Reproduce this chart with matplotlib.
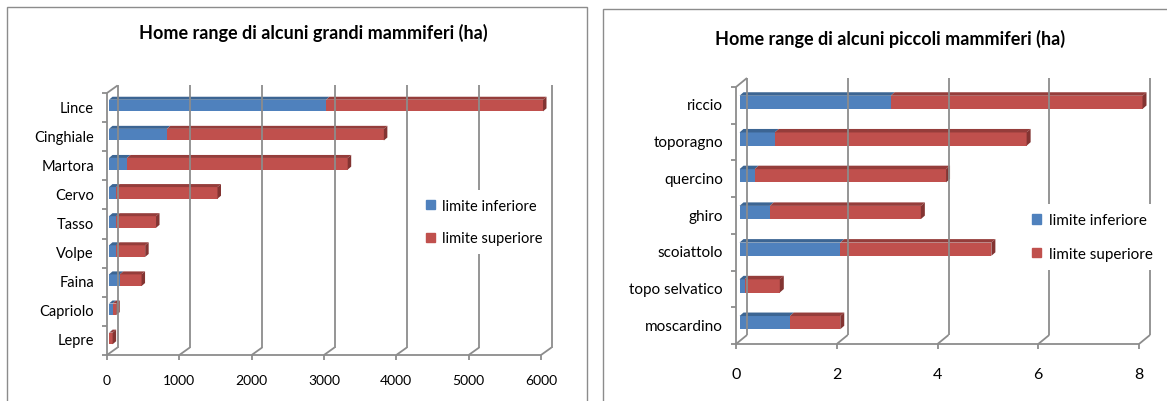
import matplotlib.pyplot as plt
from matplotlib.patches import Polygon, Rectangle, Patch

# home range (ha): lower and upper limit for each species
big_names = ['Lince', 'Cinghiale', 'Martora', 'Cervo', 'Tasso', 'Volpe', 'Faina', 'Capriolo', 'Lepre']
big_lower = [3000, 800, 250, 100, 100, 100, 150, 50, 5]
big_upper = [6000, 3800, 3300, 1500, 650, 500, 450, 100, 50]
big_ticks = [0, 1000, 2000, 3000, 4000, 5000, 6000]

small_names = ['riccio', 'toporagno', 'quercino', 'ghiro', 'scoiattolo', 'topo selvatico', 'moscardino']
small_lower = [3, 0.7, 0.3, 0.6, 2, 0.1, 1]
small_upper = [8, 5.7, 4.1, 3.6, 5, 0.8, 2]
small_ticks = [0, 2, 4, 6, 8]

series_labels = ['limite inferiore', 'limite superiore']

BLUE, BLUE_TOP, BLUE_SIDE = '#4F81BD', '#3C6593', '#345882'
RED, RED_TOP, RED_SIDE = '#C0504D', '#953D3B', '#833432'
GRID = '#8C8C8C'

plt.rcParams['font.family'] = ['Lato', 'DejaVu Sans']

W, H = 1167, 402
fig = plt.figure(figsize=(W / 100, H / 100), dpi=100)


def add_px_axes(left, top, right, bottom):
    return fig.add_axes([left / W, 1 - bottom / H, (right - left) / W, (bottom - top) / H])


def draw_panel(box, names, lower, upper, ticks, title, title_xy, legend_xy,
               back=(10.5, 7.5), shift=(2, 2), depth=(3.5, 3), bar_h=0.4,
               fs=10, tick_fs=10, tick_gap=25):
    ax = add_px_axes(*box)
    n = len(names)
    xmax = ticks[-1]
    ax.set_xlim(0, xmax)
    ax.set_ylim(n - 0.5, -0.5)
    ax.axis('off')
    # data units per pixel
    ux = xmax / (box[2] - box[0])
    uy = n / (box[3] - box[1])
    gx, gy = back[0] * ux, -back[1] * uy
    bot, top = n - 0.5, -0.5
    kw = dict(color=GRID, lw=1.3, clip_on=False, solid_capstyle='butt')

    # back wall gridlines and floor
    for t in ticks:
        ax.plot([t + gx, t + gx], [bot + gy, top + gy], **kw)
        ax.plot([t, t + gx], [bot, bot + gy], **kw)
        ax.plot([t, t], [bot, bot + 5 * uy], **kw)
        ax.text(t, bot + tick_gap * uy, str(t), ha='center', va='center', fontsize=tick_fs)
    ax.plot([0, xmax], [bot, bot], **kw)
    ax.plot([0, 0], [bot, top], **kw)
    ax.plot([0, gx], [top, top + gy], **kw)
    for k in range(n + 1):
        ax.plot([-5 * ux, 0], [k - 0.5, k - 0.5], **kw)

    # 3d-looking stacked bars
    sx, sy = shift[0] * ux, -shift[1] * uy
    dx, dy = depth[0] * ux, -depth[1] * uy
    for i in range(n):
        y0 = i - bar_h / 2 + sy
        y1 = i + bar_h / 2 + sy
        segs = [(0, lower[i], BLUE, BLUE_TOP), (lower[i], upper[i], RED, RED_TOP)]
        for a, b, c, ct in segs:
            a, b = a + sx, b + sx
            ax.add_patch(Rectangle((a, y0), b - a, y1 - y0, color=c, lw=0, clip_on=False))
            ax.add_patch(Polygon([(a, y0), (b, y0), (b + dx, y0 + dy), (a + dx, y0 + dy)],
                                 color=ct, lw=0, clip_on=False))
        e = upper[i] + sx
        ax.add_patch(Polygon([(e, y0), (e + dx, y0 + dy), (e + dx, y1 + dy), (e, y1)],
                             color=RED_SIDE, lw=0, clip_on=False))
        ax.text(-13 * ux, i, names[i], ha='right', va='center', fontsize=fs)

    handles = [Patch(color=BLUE), Patch(color=RED)]
    ax.legend(handles, series_labels, loc='center left',
              bbox_to_anchor=(legend_xy[0] / W, 1 - legend_xy[1] / H),
              bbox_transform=fig.transFigure, fontsize=fs, frameon=True,
              facecolor='white', edgecolor='none', framealpha=1, fancybox=False,
              handlelength=0.6, handleheight=0.6, handletextpad=0.5,
              labelspacing=1.3, borderpad=0.6)

    fig.text(title_xy[0] / W, 1 - title_xy[1] / H, title, ha='center', va='center',
             fontsize=13, fontweight='bold')
    return ax


# panel frames
fig.patches.append(Rectangle((7 / W, -0.1), 580 / W, 1.1 - 8 / H, transform=fig.transFigure,
                             fill=False, edgecolor=GRID, lw=1))
fig.patches.append(Rectangle((603 / W, -0.1), 600 / W, 1.1 - 10 / H, transform=fig.transFigure,
                             fill=False, edgecolor=GRID, lw=1))

draw_panel((107, 94, 541, 356), big_names, big_lower, big_upper, big_ticks,
           'Home range di alcuni grandi mammiferi (ha)', (313, 33), (410, 223),
           fs=10.5)

draw_panel((736, 88, 1139, 345), small_names, small_lower, small_upper, small_ticks,
           'Home range di alcuni piccoli mammiferi (ha)', (890, 39), (1015, 238),
           back=(11, 9), shift=(3.5, 3), depth=(4, 3.5), bar_h=0.36, fs=11, tick_fs=11.5,
           tick_gap=30)

fig.savefig('out.png', dpi=100)
